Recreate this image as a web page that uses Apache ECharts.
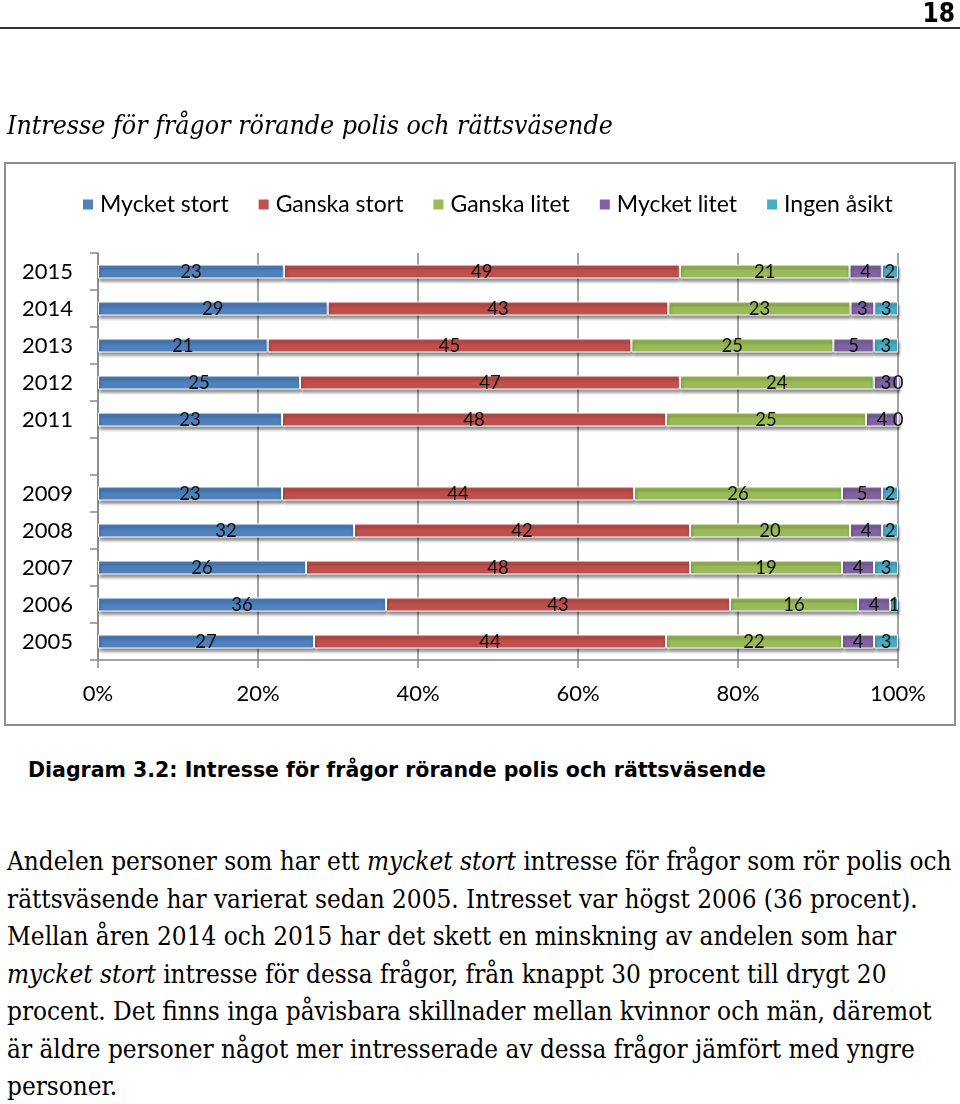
<!DOCTYPE html>
<html>
<head>
<meta charset="utf-8">
<script src="https://cdn.jsdelivr.net/npm/echarts@6/dist/echarts.min.js"></script>
<style>
  body { margin:0; background:#fff; }
  #page { position:relative; width:960px; height:1104px; overflow:hidden; }
  .t { position:absolute; color:#000; white-space:nowrap; z-index:2; }
</style>
</head>
<body>
<div id="page">
  <div id="chart" style="position:absolute;left:0;top:0;width:960px;height:740px;z-index:1"></div>
  <div class="t" style="right:5px;top:0px;font:bold 26px 'DejaVu Sans Condensed';line-height:26px">18</div>
  <div class="t" style="left:0;top:27px;width:960px;height:2px;background:#333"></div>
  <div class="t" style="left:7px;top:108px;font:italic 26.5px 'DejaVu Serif Condensed';line-height:34px">Intresse för frågor rörande polis och rättsväsende</div>
  <div class="t" style="left:28px;top:758px;font:bold 20.5px 'DejaVu Sans';line-height:24px">Diagram 3.2: Intresse för frågor rörande polis och rättsväsende</div>
  <div class="t" style="left:7px;top:843px;font:25.9px 'DejaVu Serif Condensed';line-height:37.5px">Andelen personer som har ett <i>mycket stort</i> intresse för frågor som rör polis och<br>rättsväsende har varierat sedan 2005. Intresset var högst 2006 (36 procent).<br>Mellan åren 2014 och 2015 har det skett en minskning av andelen som har<br><i>mycket stort</i> intresse för dessa frågor, från knappt 30 procent till drygt 20<br>procent. Det finns inga påvisbara skillnader mellan kvinnor och män, däremot<br>är äldre personer något mer intresserade av dessa frågor jämfört med yngre<br>personer.</div>
</div>
<script>
const categories = ['2015','2014','2013','2012','2011','','2009','2008','2007','2006','2005'];
const seriesNames = ['Mycket stort','Ganska stort','Ganska litet','Mycket litet','Ingen åsikt'];
const mycketStort = [23,29,21,25,23,null,23,32,26,36,27];
const ganskaStort = [49,43,45,47,48,null,44,42,48,43,44];
const ganskaLitet = [21,23,25,24,25,null,26,20,19,16,22];
const mycketLitet = [4,3,5,3,4,null,5,4,4,4,4];
const ingenAsikt  = [2,3,3,0,0,null,2,2,3,1,3];
const xTicks = ['0%','20%','40%','60%','80%','100%'];

const raw = [mycketStort, ganskaStort, ganskaLitet, mycketLitet, ingenAsikt];
const colors = ['#4F81BD','#C0504D','#9BBB59','#8064A2','#4BACC6'];
// 100% stacked: normalise each row by its total
const totals = categories.map((c,i)=> raw.every(a=>a[i]==null) ? null : raw.reduce((s,a)=>s+(a[i]||0),0));

const chart = echarts.init(document.getElementById('chart'), null, {renderer:'canvas'});
const font = 'Lato';
chart.setOption({
  animation:false,
  graphic:[{type:'rect', shape:{x:5,y:163,width:950,height:562}, style:{fill:'none', stroke:'#8c8c8c', lineWidth:2}, z:-1}],
  legend:{
    data:seriesNames, left:76, top:188, icon:'rect', itemWidth:12, itemHeight:12, itemGap:28,
    textStyle:{fontFamily:font, fontSize:23, color:'#000', padding:[0,0,0,1]}
  },
  grid:{left:98, right:62, top:253, height:407, containLabel:false},
  xAxis:{
    type:'value', min:0, max:100, interval:20,
    axisLine:{show:true, lineStyle:{color:'#868686', width:1.5}},
    axisTick:{show:true, length:8, lineStyle:{color:'#868686', width:1.5}},
    splitLine:{show:true, lineStyle:{color:'#868686', width:1.5}},
    axisLabel:{margin:23, fontFamily:font, fontSize:22, color:'#000', formatter:(v)=>xTicks[Math.round(v/20)]}
  },
  yAxis:{
    type:'category', inverse:true, data:categories,
    axisLine:{show:true, lineStyle:{color:'#868686', width:1.5}},
    axisTick:{show:true, length:8, lineStyle:{color:'#868686', width:1.5}},
    axisLabel:{margin:25, fontFamily:font, fontSize:22, color:'#000'}
  },
  series: raw.map((arr,k)=>({
    name:seriesNames[k], type:'bar', stack:'total', barWidth:14,
    data: arr.map((v,i)=> v==null ? '-' : v/totals[i]*100),
    itemStyle:{color:colors[k], borderColor:'#fff', borderWidth:1,
      shadowColor:'rgba(0,0,0,0.45)', shadowBlur:3, shadowOffsetX:1, shadowOffsetY:3},
    label:{show:true, position:'inside', offset:[0,1], fontFamily:font, fontSize:18.5, color:'#111',
      formatter:(p)=> String(arr[p.dataIndex])}
  }))
});
</script>
</body>
</html>
